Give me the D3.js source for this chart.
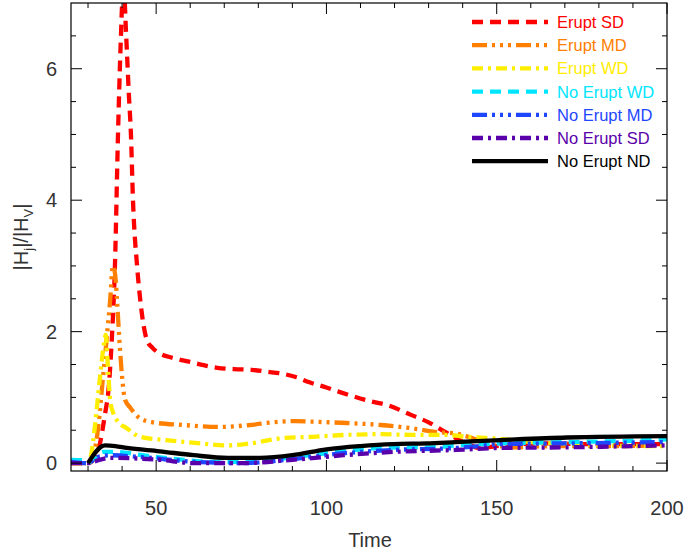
<!DOCTYPE html>
<html>
<head>
<meta charset="utf-8">
<script src="https://cdn.jsdelivr.net/npm/d3@7"></script>
<style>
  body { margin: 0; background: #fff; }
  text { font-family: "Liberation Sans", Arial, Helvetica, sans-serif; }
</style>
</head>
<body>
<script>
// [time, |Hj|/|Hv|]
let eruptSD = [[25,0],[30,0],[32,0.08],[33.5,0.3],[35,0.75],[36,1.11],[37,1.9],[37.9,3.0],[38.8,5.0],[39.6,6.4],[40.4,7.3],[41.2,6.5],[42,5.6],[42.6,5.0],[43.2,4.0],[44.4,3.0],[45.3,2.5],[46.3,2.1],[47.3,1.87],[49,1.75],[51,1.67],[55,1.6],[60,1.54],[64,1.49],[68,1.45],[73,1.43],[78,1.42],[82.5,1.39],[87,1.36],[91,1.31],[95,1.23],[100,1.15],[104,1.08],[113,0.94],[118,0.88],[125,0.73],[130,0.62],[135,0.47],[141,0.3],[145,0.23],[150,0.26],[155,0.29],[165,0.3],[175,0.29],[185,0.29],[200,0.29]];
let eruptMD = [[25,0],[30,0],[31.5,0.1],[33,0.55],[34.4,1.31],[35.5,1.9],[36.5,2.48],[37.3,3.0],[38,2.85],[38.5,2.48],[39.4,1.72],[40,1.31],[40.9,0.96],[42.3,0.85],[45.3,0.68],[49,0.62],[58,0.58],[68,0.55],[77.6,0.58],[84,0.62],[91,0.64],[96,0.63],[106,0.61],[116,0.58],[125,0.53],[133,0.47],[138,0.45],[141,0.41],[145,0.34],[150,0.27],[155,0.24],[160,0.25],[170,0.26],[185,0.26],[200,0.27]];
let eruptWD = [[25,0],[30,0],[31,0.15],[32,0.55],[33.5,1.3],[34.5,1.75],[35.2,1.95],[35.8,1.5],[36.5,0.96],[37.5,0.75],[38.5,0.65],[41.4,0.53],[45.3,0.4],[53,0.35],[63,0.3],[71,0.27],[77.6,0.3],[87,0.38],[96,0.4],[106,0.43],[116,0.44],[125,0.43],[135,0.43],[141,0.4],[151,0.37],[160.6,0.32],[170.6,0.29],[180,0.27],[190,0.26],[200,0.26]];
let noEruptWD = [[25,0.05],[29,0.04],[30,0],[32,0.08],[34.4,0.17],[38.5,0.17],[46,0.12],[56,0.06],[66,0.02],[75.5,0.02],[85.5,0.06],[95,0.12],[105,0.18],[115,0.23],[124.5,0.24],[131,0.24],[138,0.27],[151,0.3],[170.6,0.32],[190,0.34],[200,0.36]];
let noEruptMD = [[25,0.02],[30,0],[32.6,0.09],[36.5,0.12],[46,0.09],[61,0.02],[75.5,0],[90,0.06],[105,0.15],[119.5,0.2],[138,0.23],[145,0.26],[151,0.29],[170,0.3],[200,0.32]];
let noEruptSD = [[25,0],[30,0],[31.5,0.02],[36.5,0.08],[51,0.05],[61,0],[75.5,0],[90,0.05],[105,0.12],[119.5,0.17],[138,0.2],[151,0.23],[170,0.24],[200,0.27]];
let noEruptND = [[30,0],[35,0.27],[38,0.26],[41.4,0.23],[51,0.18],[61,0.12],[71,0.08],[80.5,0.08],[90,0.12],[100,0.21],[110,0.26],[119.5,0.29],[129.5,0.3],[138,0.32],[151,0.35],[170.6,0.39],[200,0.41]];

let names = ["Erupt SD", "Erupt MD", "Erupt WD", "No Erupt WD", "No Erupt MD", "No Erupt SD", "No Erupt ND"];
let seriesData = [eruptSD, eruptMD, eruptWD, noEruptWD, noEruptMD, noEruptSD, noEruptND];
let colors = ["#ff0000", "#ff8000", "#ffee00", "#00e5ff", "#1e46ff", "#5a00aa", "#000000"];
let dashes = ["11,7", "15,5,3,5,3,5,3,5", "11,5,3,5", "11,7", "15,5,3,5,3,5,3,5", "11,5,3,5", null];

let xTicks = [50, 100, 150, 200];
let yTicks = [0, 2, 4, 6];

let W = 686, H = 554;
let mLeft = 71, mRight = 667, mTop = 3, mBottom = 471;

let svg = d3.select("body").append("svg")
    .attr("width", W)
    .attr("height", H);

let x = d3.scaleLinear().domain([25, 200]).range([mLeft, mRight]);
let y = d3.scaleLinear().domain([-0.12, 7]).range([mBottom, mTop]);

svg.append("clipPath").attr("id", "clip")
  .append("rect")
    .attr("x", mLeft).attr("y", mTop)
    .attr("width", mRight - mLeft).attr("height", mBottom - mTop);

let line = d3.line()
    .x(d => x(d[0]))
    .y(d => y(d[1]))
    .curve(d3.curveMonotoneX);

let g = svg.append("g").attr("clip-path", "url(#clip)");
seriesData.forEach((s, i) => {
  g.append("path")
    .attr("d", line(s))
    .attr("fill", "none")
    .attr("stroke", colors[i])
    .attr("stroke-width", 4.3)
    .attr("stroke-dasharray", dashes[i]);
});

// axes: ticks pointing inward on all four sides
let xMinor = d3.range(30, 200, 10).filter(v => v % 50 != 0);
let yMinor = d3.range(0.5, 7, 0.5).filter(v => v % 2 != 0);

let ax = svg.append("g").attr("stroke", "#000").attr("stroke-width", 1);
xTicks.forEach(v => {
  ax.append("line").attr("x1", x(v)).attr("x2", x(v)).attr("y1", mBottom).attr("y2", mBottom - 11);
  ax.append("line").attr("x1", x(v)).attr("x2", x(v)).attr("y1", mTop).attr("y2", mTop + 11);
});
xMinor.forEach(v => {
  ax.append("line").attr("x1", x(v)).attr("x2", x(v)).attr("y1", mBottom).attr("y2", mBottom - 5);
  ax.append("line").attr("x1", x(v)).attr("x2", x(v)).attr("y1", mTop).attr("y2", mTop + 5);
});
yTicks.forEach(v => {
  ax.append("line").attr("x1", mLeft).attr("x2", mLeft + 11).attr("y1", y(v)).attr("y2", y(v));
  ax.append("line").attr("x1", mRight).attr("x2", mRight - 11).attr("y1", y(v)).attr("y2", y(v));
});
yMinor.forEach(v => {
  ax.append("line").attr("x1", mLeft).attr("x2", mLeft + 5).attr("y1", y(v)).attr("y2", y(v));
  ax.append("line").attr("x1", mRight).attr("x2", mRight - 5).attr("y1", y(v)).attr("y2", y(v));
});
svg.append("rect")
    .attr("x", mLeft).attr("y", mTop)
    .attr("width", mRight - mLeft).attr("height", mBottom - mTop)
    .attr("fill", "none").attr("stroke", "#000").attr("stroke-width", 1.2);

svg.selectAll(".xl").data(xTicks).enter().append("text")
    .attr("x", d => x(d)).attr("y", 515)
    .attr("text-anchor", "middle")
    .attr("font-size", 20).attr("fill", "#333")
    .text(d => d);

svg.selectAll(".yl").data(yTicks).enter().append("text")
    .attr("x", 57).attr("y", d => y(d) + 7)
    .attr("text-anchor", "end")
    .attr("font-size", 20).attr("fill", "#333")
    .text(d => d);

svg.append("text")
    .attr("x", 370).attr("y", 547)
    .attr("text-anchor", "middle")
    .attr("font-size", 20).attr("fill", "#333")
    .text("Time");

let yl = svg.append("text")
    .attr("transform", "translate(28,237) rotate(-90)")
    .attr("text-anchor", "middle")
    .attr("font-size", 20).attr("fill", "#333");
yl.append("tspan").text("|H");
yl.append("tspan").attr("font-size", 13).attr("dy", 5).text("j");
yl.append("tspan").attr("dy", -5).text("|/|H");
yl.append("tspan").attr("font-size", 13).attr("dy", 5).text("V");
yl.append("tspan").attr("dy", -5).text("|");

// legend
let leg = svg.append("g");
names.forEach((n, i) => {
  let ly = 22 + i * 23.2;
  leg.append("line")
    .attr("x1", 472).attr("x2", 548)
    .attr("y1", ly).attr("y2", ly)
    .attr("stroke", colors[i])
    .attr("stroke-width", 4.3)
    .attr("stroke-dasharray", dashes[i]);
  leg.append("text")
    .attr("x", 557).attr("y", ly + 6)
    .attr("font-size", 16.5)
    .attr("fill", colors[i])
    .text(n);
});
</script>
</body>
</html>
